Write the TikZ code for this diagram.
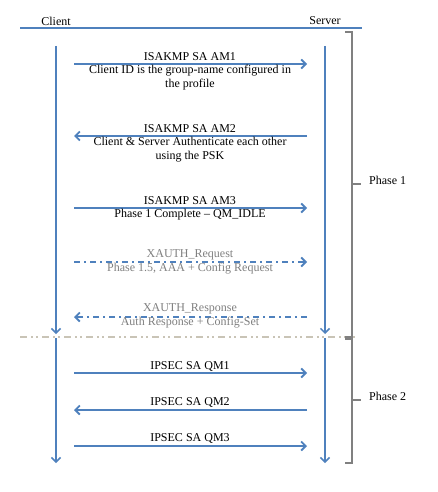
\documentclass[tikz,border=0pt]{standalone}
\usepackage{fontspec}
\setmainfont{Liberation Serif}
\usetikzlibrary{arrows.meta}
\definecolor{lblue}{HTML}{4F81BD}
\definecolor{gtext}{HTML}{7F7F7F}
\definecolor{brk}{HTML}{808080}
\definecolor{sepc}{HTML}{C9C4B6}
\tikzset{
  lifeline/.style={lblue, line width=1.5pt, -{Straight Barb[length=4.5pt,width=9pt]}},
  msg/.style={lblue, line width=1.8pt, -{Straight Barb[length=4.5pt,width=9pt]}},
  xmsg/.style={msg, dash pattern=on 6pt off 4pt on 2pt off 4pt},
  lbl/.style={font=\fontsize{12}{14}\selectfont, align=center, inner sep=0pt},
  glbl/.style={lbl, text=gtext},
  brack/.style={brk, line width=1.3pt},
}
\begin{document}
\begin{tikzpicture}[x=1pt,y=-1pt]
\useasboundingbox (0,0) rectangle (438,492);
% header
\node[lbl] (client) at (56,21) {Client};
\node[lbl] (server) at (325,21) {Server};
\coordinate (hl) at (20,28); \coordinate (hr) at (362,28);
\draw[lblue, line width=1.5pt] (hl) -- (hr);
% lifelines
\coordinate (c1) at (56,46); \coordinate (c2) at (56,334);
\coordinate (c3) at (56,338); \coordinate (c4) at (56,463);
\coordinate (s1) at (325,46); \coordinate (s2) at (325,334);
\coordinate (s3) at (325,338); \coordinate (s4) at (325,463);
\draw[lifeline] (c1) -- (c2);
\draw[lifeline] (c3) -- (c4);
\draw[lifeline] (s1) -- (s2);
\draw[lifeline] (s3) -- (s4);
% separator
\coordinate (sepl) at (20,337); \coordinate (sepr) at (355,337);
\draw[sepc, line width=1.5pt, dash pattern=on 7pt off 4pt on 2pt off 3pt on 2pt off 4pt] (sepl) -- (sepr);
% messages
\coordinate (a1l) at (74,64); \coordinate (a1r) at (307,64);
\draw[msg] (a1l) -- (a1r);
\node[lbl] (t1) at (190,57) {ISAKMP SA AM1};
\node[lbl] (t1b) at (190,78) {Client ID is the group-name configured in\\the profile};
\coordinate (a2l) at (74,136); \coordinate (a2r) at (307,136);
\draw[msg] (a2r) -- (a2l);
\node[lbl] (t2) at (190,129) {ISAKMP SA AM2};
\node[lbl] (t2b) at (190,150) {Client \& Server Authenticate each other\\using the PSK};
\coordinate (a3l) at (74,208); \coordinate (a3r) at (307,208);
\draw[msg] (a3l) -- (a3r);
\node[lbl] (t3) at (190,201) {ISAKMP SA AM3};
\node[lbl] (t3b) at (190,215) {Phase 1 Complete -- QM\_IDLE};
\coordinate (a4l) at (74,262); \coordinate (a4r) at (307,262);
\draw[xmsg] (a4l) -- (a4r);
\node[glbl] (t4) at (190,255) {XAUTH\_Request};
\node[glbl] (t4b) at (190,269) {Phase 1.5, AAA + Config Request};
\coordinate (a5l) at (74,317); \coordinate (a5r) at (307,317);
\draw[xmsg] (a5r) -- (a5l);
\node[glbl] (t5) at (190,309) {XAUTH\_Response};
\node[glbl] (t5b) at (190,323) {Auth Response + Config-Set};
\coordinate (a6l) at (74,373); \coordinate (a6r) at (307,373);
\draw[msg] (a6l) -- (a6r);
\node[lbl] (t6) at (190,366) {IPSEC SA QM1};
\coordinate (a7l) at (74,410); \coordinate (a7r) at (307,410);
\draw[msg] (a7r) -- (a7l);
\node[lbl] (t7) at (190,402) {IPSEC SA QM2};
\coordinate (a8l) at (74,446); \coordinate (a8r) at (307,446);
\draw[msg] (a8l) -- (a8r);
\node[lbl] (t8) at (190,438) {IPSEC SA QM3};
% brackets
\draw[brack] (345,32) -- (352,32) -- (352,337) -- (345,337);
\draw[brack] (352,184) -- (361,184);
\node[lbl, anchor=west] (p1) at (369,180) {Phase 1};
\draw[brack] (345,339) -- (352,339) -- (352,463) -- (345,463);
\draw[brack] (352,400) -- (361,400);
\node[lbl, anchor=west] (p2) at (369,396) {Phase 2};
\end{tikzpicture}
\end{document}
